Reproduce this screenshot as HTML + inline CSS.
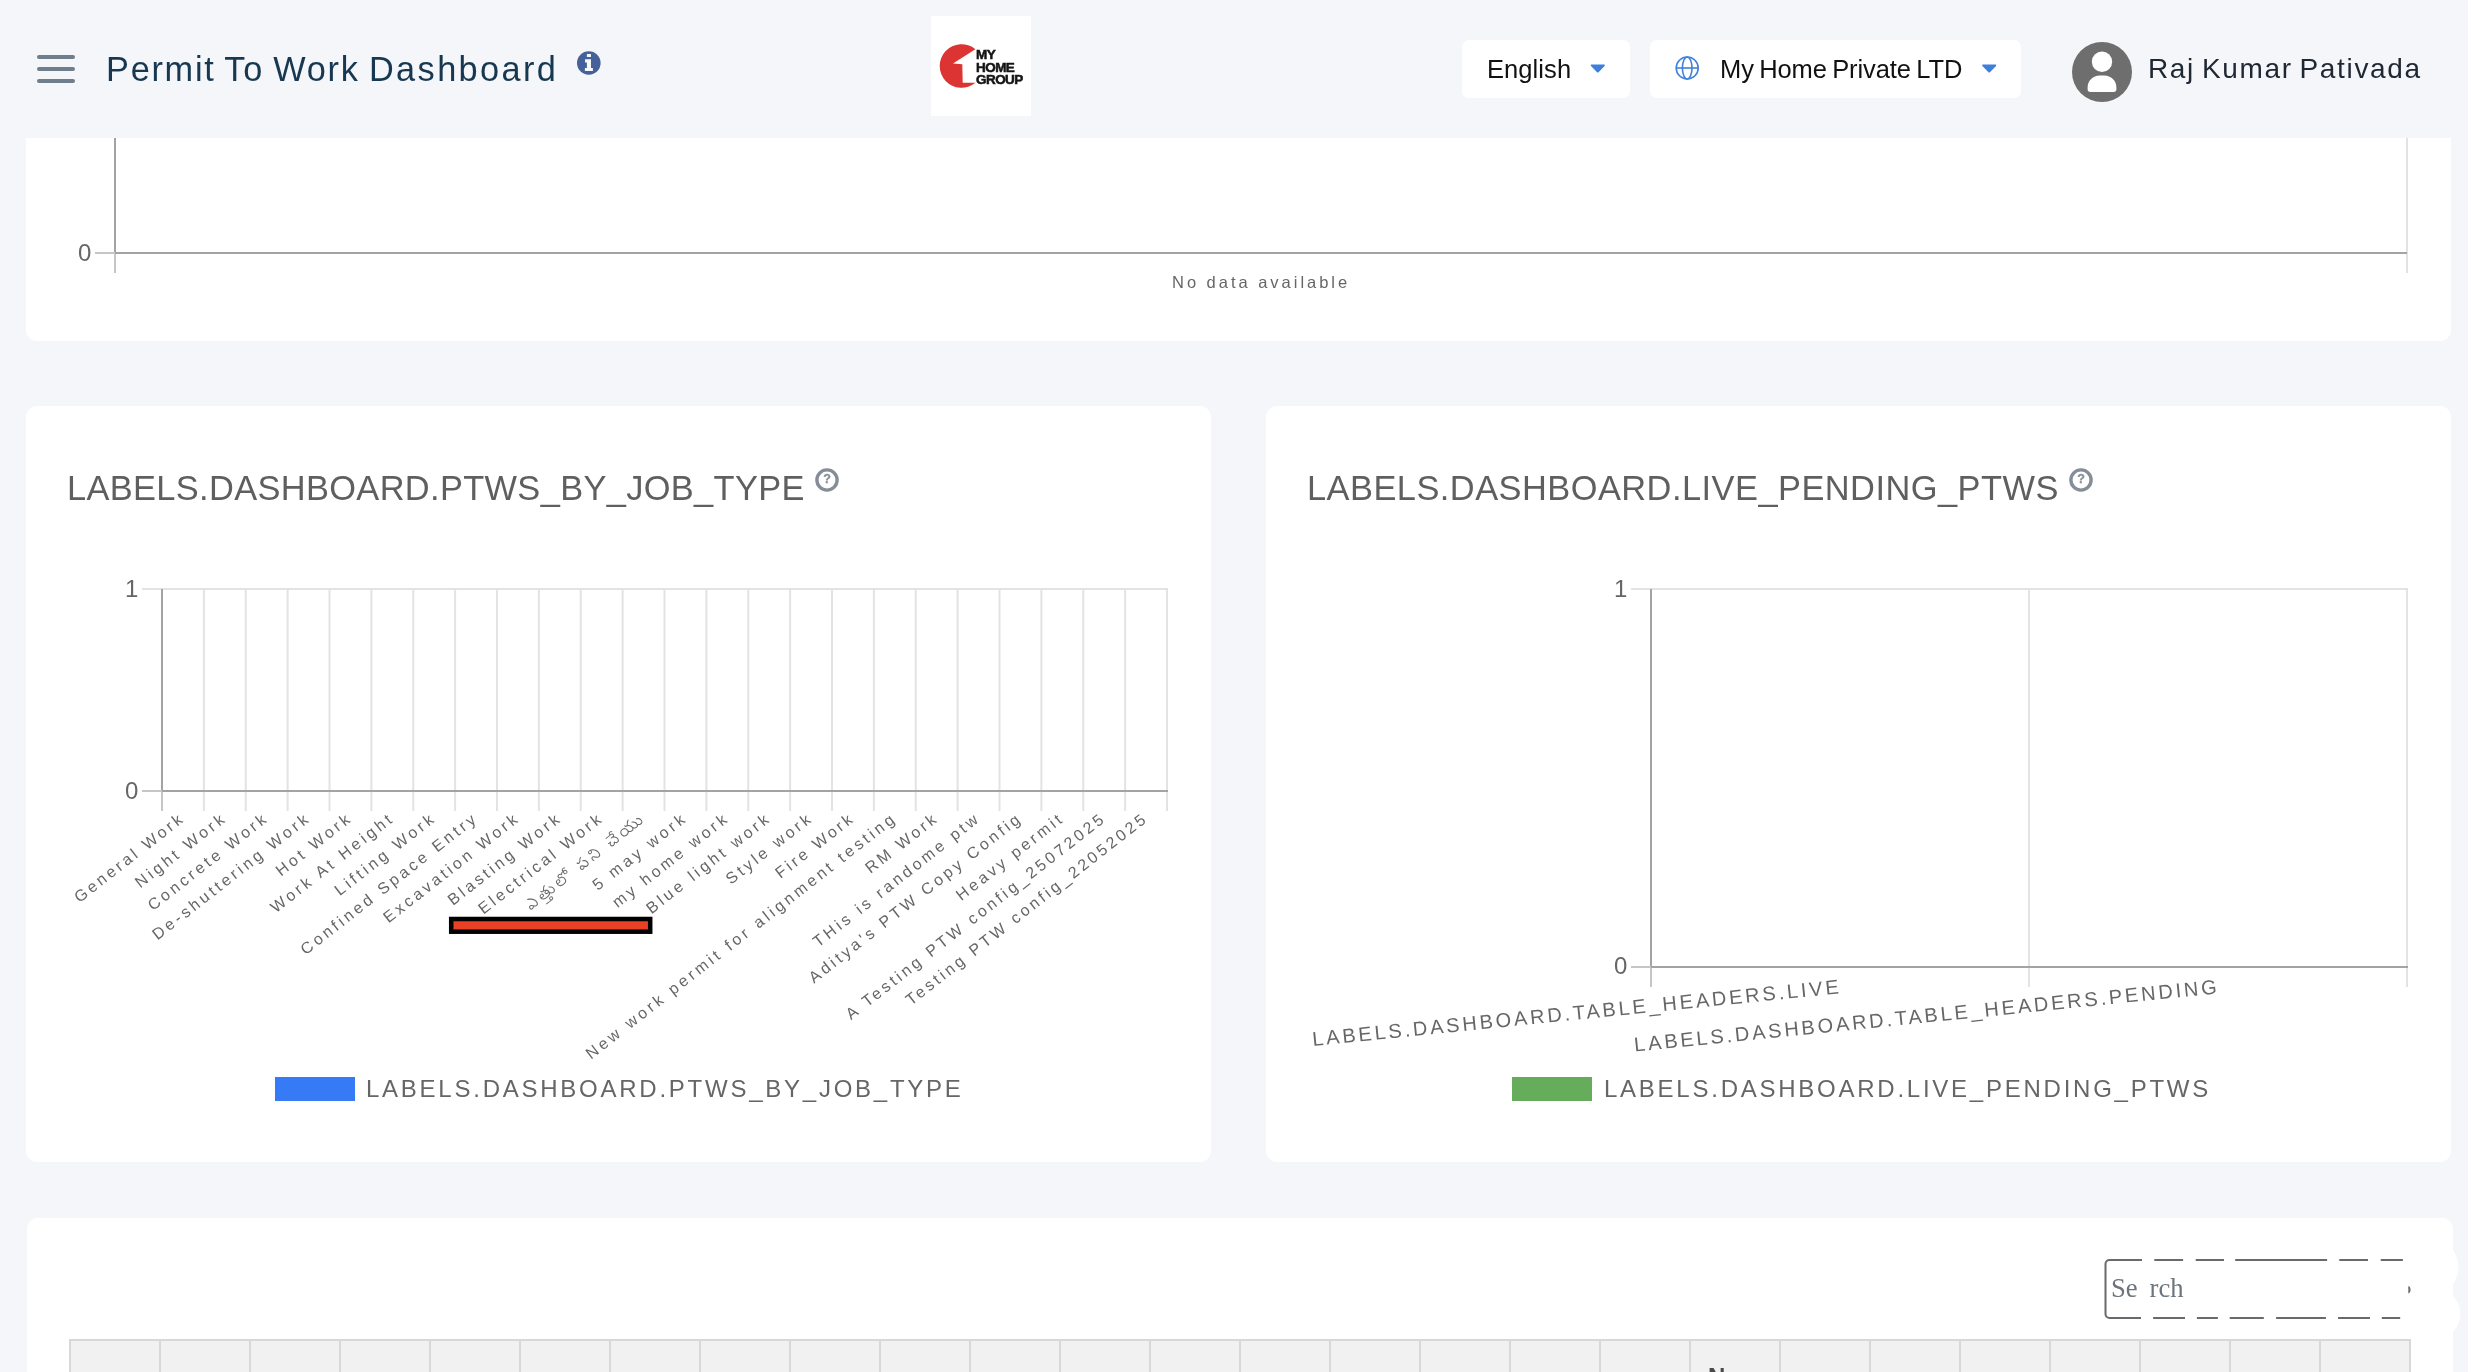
<!DOCTYPE html>
<html lang="en">
<head>
<meta charset="utf-8">
<title>Permit To Work Dashboard</title>
<style>
  html, body { margin: 0; padding: 0; }
  body {
    width: 2468px; height: 1372px; overflow: hidden; position: relative;
    background: #f4f6fa;
    font-family: "Liberation Sans", sans-serif;
    color: #666;
  }
  .abs { position: absolute; }
  /* own transparent compositing layers -> grayscale text antialiasing */
  svg, .abs, .ctitle, .legend, .ytick, .pill .txt { will-change: transform; }
  .nowrap { white-space: nowrap; }
  .card { position: absolute; background: #fff; border-radius: 11px; }
  svg { position: absolute; left: 0; top: 0; overflow: visible; }
  svg text { font-family: "Liberation Sans", sans-serif; fill: #666; }

  /* header */
  #header { position: absolute; left: 0; top: 0; width: 2468px; height: 138px; background: #f4f6fa; z-index: 5; }
  .burger span { position: absolute; left: 37px; width: 38px; height: 4px; border-radius: 2px; background: #6f7d8d; }
  #title { left: 106px; top: 49px; font-size: 34.3px; line-height: 40px; letter-spacing: 1.75px; word-spacing: -2px; color: #173850; }
  .pill { position: absolute; top: 40px; height: 58px; background: #fff; border-radius: 7px; }
  .pill .txt { position: absolute; top: 14px; font-size: 25.5px; line-height: 30px; color: #111; white-space: nowrap; }
  #uname { left: 2148px; top: 52px; font-size: 28px; line-height: 34px; letter-spacing: 1.65px; word-spacing: -2.5px; color: #1f2733; }

  /* cards text */
  .ctitle { position: absolute; font-size: 34.4px; line-height: 40px; letter-spacing: 0.35px; color: #5f5f5f; white-space: nowrap; }
  .legend { position: absolute; font-size: 24px; line-height: 28px; letter-spacing: 2.75px; color: #666; white-space: nowrap; }
  .ytick { position: absolute; font-size: 24px; line-height: 28px; color: #666; white-space: nowrap; }
</style>
</head>
<body>

<!-- ===================== HEADER ===================== -->
<div id="header">
  <div class="burger">
    <span style="top:54.8px"></span><span style="top:67px"></span><span style="top:79.3px"></span>
  </div>
  <div id="title" class="abs nowrap">Permit To Work <span style="letter-spacing:2.4px">Dashboard</span></div>
  <!-- info icon -->
  <svg width="2468" height="138">
    <circle cx="588.8" cy="63" r="11.8" fill="#456199"/>
    <path d="M586.9 54.1h4.1v2.9h-4.1z M585.05 59.2H591V68.1H592.9V71H584.9V68.1H586.9V62.4H585.05z" fill="#f6f8fc"/>
  </svg>

  <!-- logo -->
  <div class="abs" style="left:931px;top:16px;width:100px;height:100px;background:#fff;">
    <svg width="100" height="100" viewBox="931 16 100 100">
      <path d="M975.4 49.2 A21.8 21.8 0 1 0 975.4 82.8 L962.7 82.8 L962.3 64.2 L953 63.4 Z" fill="#dc3432"/>
    </svg>
    <div class="abs nowrap" style="left:44.6px;top:33px;font-size:13.5px;line-height:12.6px;font-weight:700;color:#151515;letter-spacing:-0.55px;-webkit-text-stroke:0.55px #151515;">MY<br>HOME<br>GROUP</div>
  </div>

  <!-- language -->
  <div class="pill" style="left:1462px;width:168px;">
    <div class="txt" style="left:25px;letter-spacing:0.08px;">English</div>
    <svg width="168" height="58"><path d="M129.6 24.6h12.4q1.6 0 .6 1.3l-5.8 6.2q-1 1-2 0l-5.8-6.2q-1-1.3 .6-1.3z" fill="#3f7fdc"/></svg>
  </div>

  <!-- organisation -->
  <div class="pill" style="left:1650px;width:371px;">
    <svg width="371" height="58">
      <g fill="none" stroke="#4181dc" stroke-width="1.6">
        <circle cx="37.2" cy="28" r="11"/>
        <ellipse cx="37.2" cy="28" rx="4.8" ry="11"/>
        <path d="M26.2 28h22"/>
      </g>
      <path d="M333 24.6h12.4q1.6 0 .6 1.3l-5.8 6.2q-1 1-2 0l-5.8-6.2q-1-1.3 .6-1.3z" fill="#3f7fdc"/>
    </svg>
    <div class="txt" style="left:70px;letter-spacing:-0.1px;word-spacing:-1.6px;">My Home Private LTD</div>
  </div>

  <!-- avatar -->
  <svg width="2468" height="138">
    <circle cx="2102" cy="72" r="30" fill="#6e6e6e"/>
    <circle cx="2102" cy="61.8" r="10.2" fill="#fff"/>
    <path d="M2087.6 89.3 v-1.8 a12 12 0 0 1 12 -12 h4.8 a12 12 0 0 1 12 12 v1.8 a2.7 2.7 0 0 1 -2.7 2.7 h-23.4 a2.7 2.7 0 0 1 -2.7 -2.7 z" fill="#fff"/>
  </svg>
  <div id="uname" class="abs nowrap">Raj Kumar Pativada</div>
</div>

<!-- ===================== CARD 1 (top, cut by header) ===================== -->
<div class="card" style="left:26px;top:60px;width:2425px;height:281px;"></div>
<svg width="2468" height="345">
  <!-- right grid line -->
  <rect x="2406" y="137" width="2" height="136" fill="#e2e2e2"/>
  <!-- y axis tick (light, below axis) -->
  <rect x="114" y="137" width="2" height="136" fill="#c6c6c6"/>
  <rect x="114" y="137" width="2" height="116" fill="#a3a3a3"/>
  <!-- x axis -->
  <rect x="95" y="252" width="20" height="2" fill="#c6c6c6"/>
  <rect x="115" y="252" width="2292" height="2" fill="#a3a3a3"/>
</svg>
<div class="ytick" style="left:77.5px;top:239px;">0</div>
<div class="abs nowrap" style="left:1172px;top:272px;font-size:16.5px;line-height:20px;letter-spacing:2.98px;color:#666;">No data available</div>


<!-- ===================== CARD 2 (PTWs by job type) ===================== -->
<div class="card" style="left:26px;top:406px;width:1185px;height:756px;"></div>
<div class="ctitle" style="left:67px;top:468px;">LABELS.DASHBOARD.PTWS_BY_JOB_TYPE</div>
<svg width="2468" height="1372">
<circle cx="827" cy="480" r="10.1" fill="none" stroke="#858e98" stroke-width="3.4"/>
<text x="827" y="483.4" text-anchor="middle" style="font-size:12.5px;font-weight:700;fill:#858e98;stroke:#858e98;stroke-width:.3px">?</text>
<g><rect x="202.88" y="589" width="2" height="222" fill="#e3e3e3"/><rect x="244.75" y="589" width="2" height="222" fill="#e3e3e3"/><rect x="286.62" y="589" width="2" height="222" fill="#e3e3e3"/><rect x="328.5" y="589" width="2" height="222" fill="#e3e3e3"/><rect x="370.38" y="589" width="2" height="222" fill="#e3e3e3"/><rect x="412.25" y="589" width="2" height="222" fill="#e3e3e3"/><rect x="454.12" y="589" width="2" height="222" fill="#e3e3e3"/><rect x="496" y="589" width="2" height="222" fill="#e3e3e3"/><rect x="537.88" y="589" width="2" height="222" fill="#e3e3e3"/><rect x="579.75" y="589" width="2" height="222" fill="#e3e3e3"/><rect x="621.62" y="589" width="2" height="222" fill="#e3e3e3"/><rect x="663.5" y="589" width="2" height="222" fill="#e3e3e3"/><rect x="705.38" y="589" width="2" height="222" fill="#e3e3e3"/><rect x="747.25" y="589" width="2" height="222" fill="#e3e3e3"/><rect x="789.12" y="589" width="2" height="222" fill="#e3e3e3"/><rect x="831" y="589" width="2" height="222" fill="#e3e3e3"/><rect x="872.88" y="589" width="2" height="222" fill="#e3e3e3"/><rect x="914.75" y="589" width="2" height="222" fill="#e3e3e3"/><rect x="956.62" y="589" width="2" height="222" fill="#e3e3e3"/><rect x="998.5" y="589" width="2" height="222" fill="#e3e3e3"/><rect x="1040.38" y="589" width="2" height="222" fill="#e3e3e3"/><rect x="1082.25" y="589" width="2" height="222" fill="#e3e3e3"/><rect x="1124.12" y="589" width="2" height="222" fill="#e3e3e3"/><rect x="1166" y="589" width="2" height="222" fill="#e3e3e3"/></g>
<rect x="142" y="588" width="1026" height="2" fill="#e3e3e3"/>
<rect x="161" y="589" width="2" height="222" fill="#c6c6c6"/>
<rect x="161" y="589" width="2" height="202" fill="#a3a3a3"/>
<rect x="142" y="790" width="20" height="2" fill="#c6c6c6"/>
<rect x="162" y="790" width="1006" height="2" fill="#a3a3a3"/>
<g><text transform="translate(180.14 817.5) rotate(-38)" x="3.07" y="5.6" text-anchor="end" style="font-size:16px;letter-spacing:3.07px">General Work</text>
<text transform="translate(222.01 817.5) rotate(-38)" x="3.25" y="5.6" text-anchor="end" style="font-size:16px;letter-spacing:3.25px">Night Work</text>
<text transform="translate(263.89 817.5) rotate(-38)" x="3.23" y="5.6" text-anchor="end" style="font-size:16px;letter-spacing:3.23px">Concrete Work</text>
<text transform="translate(305.76 817.5) rotate(-38)" x="3.24" y="5.6" text-anchor="end" style="font-size:16px;letter-spacing:3.24px">De-shuttering Work</text>
<text transform="translate(347.64 817.5) rotate(-38)" x="3.24" y="5.6" text-anchor="end" style="font-size:16px;letter-spacing:3.24px">Hot Work</text>
<text transform="translate(389.51 817.5) rotate(-38)" x="3.26" y="5.6" text-anchor="end" style="font-size:16px;letter-spacing:3.26px">Work At Height</text>
<text transform="translate(431.39 817.5) rotate(-38)" x="3.31" y="5.6" text-anchor="end" style="font-size:16px;letter-spacing:3.31px">Lifting Work</text>
<text transform="translate(473.26 817.5) rotate(-38)" x="3.22" y="5.6" text-anchor="end" style="font-size:16px;letter-spacing:3.22px">Confined Space Entry</text>
<text transform="translate(515.14 817.5) rotate(-38)" x="3.24" y="5.6" text-anchor="end" style="font-size:16px;letter-spacing:3.24px">Excavation Work</text>
<text transform="translate(557.01 817.5) rotate(-38)" x="3.17" y="5.6" text-anchor="end" style="font-size:16px;letter-spacing:3.17px">Blasting Work</text>
<text transform="translate(598.89 817.5) rotate(-38)" x="3.18" y="5.6" text-anchor="end" style="font-size:16px;letter-spacing:3.18px">Electrical Work</text>
<!-- Telugu label "ఎత్తులో పని చేయు" drawn as outline (no Telugu font available) -->
<path transform="translate(640.76 817.5) rotate(-38) translate(3.2 5.6) scale(.102)" fill="#666" d="M-1192 24l-4-8-9-5-13 0-8 4-4 6-1 10 3 6-2 3-55 0 0 9 77-1 8-3 6-6zM-1206 19l6 7-1 7-7 6-9 1-6-8 1-8 9-6zM-715 -57l-8-10-17-11-2 0-4 8 21 18 5 9 1 19-3 7-9 7-14-1-12-10-15-18-11-5-8 0-10 4-6 7-2 14 3 10 6 6 8 3 16-2 12-11 9 8 11 5 12 0 10-3 8-7 5-12 0-20zM-794 -33l9-2 12 9 3 4-7 10-6 3-7 0-8-7-1-11zM-647 -106l-4 5-2 9 3 10 9 7 10 1 13-5 4-6 0-12 2-2 12 8 12 13 7 12 6 19 1 11-4 18-10 8-10 0-6-3-27-29-10-3-9 1-8 5-5 11 0 11 6 16 11-3-7-14 0-9 7-8 7 0 3 2 15 19 15 12 17 2 14-5 9-14 2-25-5-22-11-20-17-16-18-8-20-1zM-625 -103l3 4 0 10-2 3-8 4-7-2-5-8 2-6 5-4zM-1401 -112l-5 10 24 14 11 10 13 17 7 18 0 21-8 10-4 2-11 0-6-3-25-27-10-4-8 0-11 5-5 7-1 16 2 6 6 7 8 3 14-1 6-3 9-9 7 7 9 5 16 1 7-2 9-6 7-16 0-17-4-16-11-20-12-14-17-13zM-1424 -34l10 0 11 10 1 3-2 4-6 6-11 2-8-6-2-10zM-40 -39l-3-11-9-14-21-15-5 10 20 15 7 13 1 13-2 8-8 9-18 0-7-4-11-11 1-9-2-11-8-15-10-10-14-8-4 10 11 7 12 13 4 10 0 15-3 7-9 7-12 0-9-4-12-12 0-13-5-14-4-6-18-16 26-28 11-2-1-10-5 0-16 8-16 20-10 8-6-1-5-5-3-8-10 3 5 13 4 4 18 5 9 6 12 14 4 12 0 9-3 9-7 7-15 1-10-5-11-11 0-23-7-16-9-8-17-6-19 1-15 8-10 14-3 12 0 11 3 12 5 8 8 7 17 6 14 0 12-3 10-6 6-7 13 11 14 5 18-2 13-12 12 10 12 4 18-2 6-3 8-9 7 7 9 5 19 2 12-5 7-8 4-12zM-254 -69l14 0 9 3 9 8 5 11 0 16-2 6-10 11-9 4-16 0-10-4-7-7-5-10-1-10 5-16 8-8zM-733 -115l-9 1-12 7-16 20-10 8-6-1-5-5-3-8-10 3 2 8 3 5 8 6 15 0 11-7 18-22 6-4 9-1zM-1128 -39l-3-11-9-14-21-15-5 10 17 12 7 9 4 13-2 15-8 9-15 1-10-5-12-12 2-13-5-19-13-12-16-7 22-25 11-2-1-10-4 0-14 6-18 21-11 9-6-1-5-5-3-8-10 3 4 11 5 6 8 3 23 1 7 3-2 2-9 1-8 6-2 5 0 10 5 9 9 4 11 0 9-4 2 2-10 13-12 6-9 2-26 0-13-3-12-7-7-9 2-2 5 2 17-1 6-3 6-8 0-15-4-6-8-4-18 1-11 8-5 11 0 15 4 11 8 9 11 6 14 4 29 1 12-2 15-6 11-9 10 10 9 5 19 2 12-5 7-8 4-12zM-1221 -49l5-7 4-2 8 0 11 10-7 9-12 2-7-5zM-1285 -43l3-7 11-8 8 0 7 6 0 7-7 7-12 1-8-3zM-343 -129l-9-3-10 0-11 4-5 8 0 10-2 2-49 0 0 9 69 0 7 5 1 8-4 5-5 2-27 0 0 9 15 0 14 8 9 9 5 9 2 9 0 8-3 9-10 8-10 0-10-6-5-12-10 0-2 8-8 8-4 2-10 0-9-7-1-12 6-9 11-5 0-9-34 0 0 9 13 0 2 2-8 12 0 12 6 11 10 5 13 1 14-6 6-8 13 12 16 2 8-2 9-6 7-17-1-18-7-15-12-12 10-11 1-14-3-6-6-5-15-2-3-4 1-7 7-5 9 0 7 7 10-2zM-921 -128l-6-5-7-2-17 2-7 5-3 8 1 7-2 2-13 1-12 11-6-7-11-5-16 1-8 4-6 9 1 15 7 8 7 3 10 1 11 11 5 12-2 19-8 10-6 4-13 4-20 0-17-7-8-8-5-11 0-5 2-2 7 3 14 0 6-2 6-5 4-12-1-8-4-7-10-5-10 0-12 5-5 5-5 10-2 21 7 20 12 11 22 7 26-1 17-7 7-6 7-14 0-25-4-10-15-16-14-1-6-5 0-11 6-5 11-1 5 2 6 6 3 7 10 0 2-7 6-6 11-2 2 2-3 7 0 11 3 6 9 6 17 0 7-4 4-6 0-18-9-10-16-3-3-7 8-9 9 0 7 7 10-2zM-1044 -65l1 8-2 4-7 5-11 0-8-5 3-10 9-7 7-1zM-950 -102l10 1 8 8 0 9-7 7-8 0-8-7 0-10z"><title>ఎత్తులో పని చేయు</title></path>
<text transform="translate(682.64 817.5) rotate(-38)" x="3.37" y="5.6" text-anchor="end" style="font-size:16px;letter-spacing:3.37px">5 may work</text>
<text transform="translate(724.51 817.5) rotate(-38)" x="3.29" y="5.6" text-anchor="end" style="font-size:16px;letter-spacing:3.29px">my home work</text>
<text transform="translate(766.39 817.5) rotate(-38)" x="3.3" y="5.6" text-anchor="end" style="font-size:16px;letter-spacing:3.3px">Blue light work</text>
<text transform="translate(808.26 817.5) rotate(-38)" x="3.17" y="5.6" text-anchor="end" style="font-size:16px;letter-spacing:3.17px">Style work</text>
<text transform="translate(850.14 817.5) rotate(-38)" x="2.97" y="5.6" text-anchor="end" style="font-size:16px;letter-spacing:2.97px">Fire Work</text>
<text transform="translate(892.01 817.5) rotate(-38)" x="3.3" y="5.6" text-anchor="end" style="font-size:16px;letter-spacing:3.3px">New work permit for alignment testing</text>
<text transform="translate(933.89 817.5) rotate(-38)" x="3.07" y="5.6" text-anchor="end" style="font-size:16px;letter-spacing:3.07px">RM Work</text>
<text transform="translate(975.76 817.5) rotate(-38)" x="3.25" y="5.6" text-anchor="end" style="font-size:16px;letter-spacing:3.25px">THis is randome ptw</text>
<text transform="translate(1017.64 817.5) rotate(-38)" x="3.25" y="5.6" text-anchor="end" style="font-size:16px;letter-spacing:3.25px">Aditya's PTW Copy Config</text>
<text transform="translate(1059.51 817.5) rotate(-38)" x="3.16" y="5.6" text-anchor="end" style="font-size:16px;letter-spacing:3.16px">Heavy permit</text>
<text transform="translate(1101.39 817.5) rotate(-38)" x="3.22" y="5.6" text-anchor="end" style="font-size:16px;letter-spacing:3.22px">A Testing PTW config_25072025</text>
<text transform="translate(1143.26 817.5) rotate(-38)" x="3.12" y="5.6" text-anchor="end" style="font-size:16px;letter-spacing:3.12px">Testing PTW config_22052025</text></g>
<rect x="451.2" y="919" width="199" height="12.7" fill="#e94126" stroke="#000" stroke-width="4.5"/>
<rect x="275" y="1077" width="80" height="24" fill="#367af6"/>
</svg>
<div class="ytick" style="left:124.7px;top:575px;">1</div>
<div class="ytick" style="left:124.7px;top:777px;">0</div>
<div class="legend" style="left:366.1px;top:1075px;">LABELS.DASHBOARD.PTWS_BY_JOB_TYPE</div>

<!-- ===================== CARD 3 (live / pending) ===================== -->
<div class="card" style="left:1266px;top:406px;width:1185px;height:756px;"></div>
<div class="ctitle" style="left:1307px;top:468px;letter-spacing:0.47px;">LABELS.DASHBOARD.LIVE_PENDING_PTWS</div>
<svg width="2468" height="1372">
<circle cx="2081" cy="480" r="10.1" fill="none" stroke="#858e98" stroke-width="3.4"/>
<text x="2081" y="483.4" text-anchor="middle" style="font-size:12.5px;font-weight:700;fill:#858e98;stroke:#858e98;stroke-width:.3px">?</text>
<rect x="2028" y="589" width="2" height="398" fill="#e3e3e3"/>
<rect x="2406" y="589" width="2" height="398" fill="#e3e3e3"/>
<rect x="1631" y="588" width="777" height="2" fill="#e3e3e3"/>
<rect x="1650" y="589" width="2" height="398" fill="#c6c6c6"/>
<rect x="1650" y="589" width="2" height="378" fill="#a3a3a3"/>
<rect x="1631" y="966" width="20" height="2" fill="#c6c6c6"/>
<rect x="1651" y="966" width="757" height="2" fill="#a3a3a3"/>
<text transform="translate(1838.5 986.5) rotate(-5.7)" x="2.85" y="7" text-anchor="end" style="font-size:20px;letter-spacing:2.85px">LABELS.DASHBOARD.TABLE_HEADERS.LIVE</text>
<text transform="translate(2216.5 986.5) rotate(-5.7)" x="2.85" y="7" text-anchor="end" style="font-size:20px;letter-spacing:2.85px">LABELS.DASHBOARD.TABLE_HEADERS.PENDING</text>
<rect x="1512" y="1077" width="80" height="24" fill="#66ad5b"/>
</svg>
<div class="ytick" style="left:1613.7px;top:575px;">1</div>
<div class="ytick" style="left:1613.7px;top:952px;">0</div>
<div class="legend" style="left:1603.5px;top:1075px;">LABELS.DASHBOARD.LIVE_PENDING_PTWS</div>

<!-- ===================== CARD 4 (table) ===================== -->
<div class="card" style="left:27px;top:1218px;width:2426px;height:200px;"></div>
<svg width="2468" height="1372">
<circle cx="2429" cy="1267" r="29.5" fill="#fff"/><circle cx="2434.5" cy="1313.7" r="25.7" fill="#fff"/>
<rect x="69" y="1339" width="2342" height="40" fill="#d8d8d8"/>
<g><rect x="71" y="1341" width="88" height="40" fill="#f1f1f1"/><rect x="161" y="1341" width="88" height="40" fill="#f1f1f1"/><rect x="251" y="1341" width="88" height="40" fill="#f1f1f1"/><rect x="341" y="1341" width="88" height="40" fill="#f1f1f1"/><rect x="431" y="1341" width="88" height="40" fill="#f1f1f1"/><rect x="521" y="1341" width="88" height="40" fill="#f1f1f1"/><rect x="611" y="1341" width="88" height="40" fill="#f1f1f1"/><rect x="701" y="1341" width="88" height="40" fill="#f1f1f1"/><rect x="791" y="1341" width="88" height="40" fill="#f1f1f1"/><rect x="881" y="1341" width="88" height="40" fill="#f1f1f1"/><rect x="971" y="1341" width="88" height="40" fill="#f1f1f1"/><rect x="1061" y="1341" width="88" height="40" fill="#f1f1f1"/><rect x="1151" y="1341" width="88" height="40" fill="#f1f1f1"/><rect x="1241" y="1341" width="88" height="40" fill="#f1f1f1"/><rect x="1331" y="1341" width="88" height="40" fill="#f1f1f1"/><rect x="1421" y="1341" width="88" height="40" fill="#f1f1f1"/><rect x="1511" y="1341" width="88" height="40" fill="#f1f1f1"/><rect x="1601" y="1341" width="88" height="40" fill="#f1f1f1"/><rect x="1691" y="1341" width="88" height="40" fill="#f1f1f1"/><rect x="1781" y="1341" width="88" height="40" fill="#f1f1f1"/><rect x="1871" y="1341" width="88" height="40" fill="#f1f1f1"/><rect x="1961" y="1341" width="88" height="40" fill="#f1f1f1"/><rect x="2051" y="1341" width="88" height="40" fill="#f1f1f1"/><rect x="2141" y="1341" width="88" height="40" fill="#f1f1f1"/><rect x="2231" y="1341" width="88" height="40" fill="#f1f1f1"/><rect x="2321" y="1341" width="88" height="40" fill="#f1f1f1"/></g>
<g fill="none" stroke="#6a6a6a" stroke-width="2"><path d="M2142 1260 H2109.5 a4 4 0 0 0 -4 4 V1314 a4 4 0 0 0 4 4 H2141" /><path d="M2154.3 1260H2183.1M2195.7 1260H2224M2235.2 1260H2327.1M2339.3 1260H2368M2380.7 1260H2402.9M2153.1 1318H2185M2196.9 1318H2217.9M2229.7 1318H2263.8M2276.1 1318H2325.9M2338.1 1318H2370M2381.8 1318H2400.2"/></g>
<path d="M2408.3 1286 q2.2 .4 2.2 3.7 q0 3.3 -2.2 3.7 z" fill="#6a6a6a"/>
</svg>
<div class="abs nowrap" style="left:2111px;top:1272px;font-family:'Liberation Serif',serif;font-size:26.67px;line-height:32px;color:#6c757d;">Se<span style="visibility:hidden">a</span>rch</div>
<div class="abs nowrap" style="left:1708px;top:1363px;font-size:24px;line-height:28px;font-weight:700;color:#4a4a4a;">No</div>

</body>
</html>
